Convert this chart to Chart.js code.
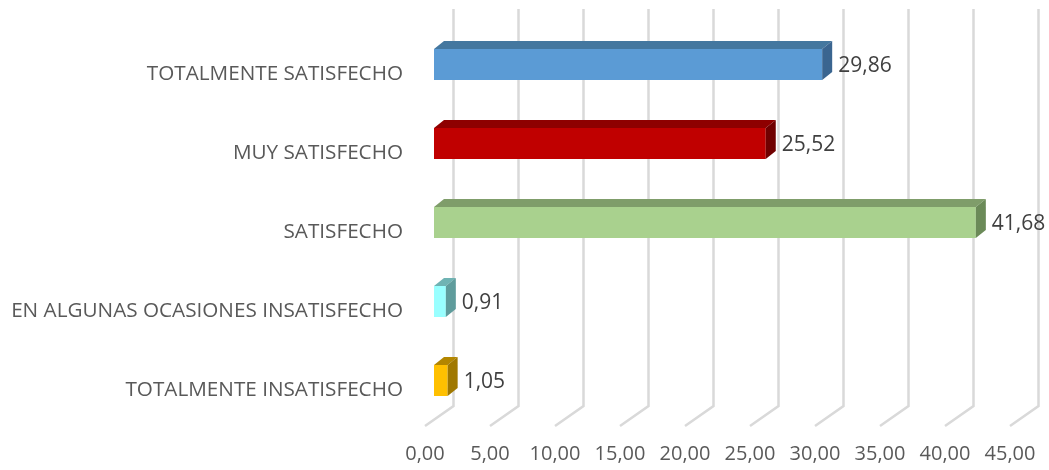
<!DOCTYPE html>
<html>
<head>
<meta charset="utf-8">
<script src="https://cdn.jsdelivr.net/npm/chart.js@4/dist/chart.umd.min.js"></script>
<style>
    body { margin: 0; background: #ffffff; }
    #wrap { width: 1049px; height: 470px; }
</style>
</head>
<body>
<div id="wrap"><canvas id="myChart" width="1049" height="470"></canvas></div>
<script>
const categories = [
    'TOTALMENTE SATISFECHO',
    'MUY SATISFECHO',
    'SATISFECHO',
    'EN ALGUNAS OCASIONES INSATISFECHO',
    'TOTALMENTE INSATISFECHO'
];
const values = [29.86, 25.52, 41.68, 0.91, 1.05];
const xTicks = [0, 5, 10, 15, 20, 25, 30, 35, 40, 45];

// colours for the front, top and side faces of each bar
const frontColors = ['#5b9bd5', '#c00000', '#a9d18e', '#99ffff', '#ffc000'];
const topColors = ['#44779f', '#8e0000', '#7f9d6a', '#6fb3b3', '#b38600'];
const sideColors = ['#3a6590', '#700000', '#6b8a58', '#5f9c9c', '#a07800'];

const fmt = (v) => v.toFixed(2).replace('.', ',');
const FONT = '"Open Sans", "Noto Sans", sans-serif';

// the fake 3D: wall + floor gridlines, bar top/side faces and value labels
const depth3d = {
    id: 'depth3d',
    beforeDatasetsDraw(chart) {
        const ctx = chart.ctx;
        const xs = chart.scales.x;
        const area = chart.chartArea;
        ctx.save();
        ctx.strokeStyle = '#d9d9d9';
        ctx.lineWidth = 2.5;
        xTicks.forEach((t) => {
            const px = xs.getPixelForValue(t);
            ctx.beginPath();
            ctx.moveTo(px + 19.5, area.top - 16);
            ctx.lineTo(px + 19.5, area.bottom - 14);
            ctx.lineTo(px - 9, area.bottom + 6);
            ctx.stroke();
        });
        ctx.restore();
    },
    afterDatasetsDraw(chart) {
        const ctx = chart.ctx;
        const meta = chart.getDatasetMeta(0);
        const dx = 10, dy = -8;
        ctx.save();
        meta.data.forEach((bar, i) => {
            const p = bar.getProps(['x', 'y', 'base', 'height'], true);
            const top = p.y - p.height / 2;
            const bottom = p.y + p.height / 2;
            // top face
            ctx.fillStyle = topColors[i];
            ctx.beginPath();
            ctx.moveTo(p.base, top);
            ctx.lineTo(p.x, top);
            ctx.lineTo(p.x + dx, top + dy);
            ctx.lineTo(p.base + dx, top + dy);
            ctx.closePath();
            ctx.fill();
            // side face
            ctx.fillStyle = sideColors[i];
            ctx.beginPath();
            ctx.moveTo(p.x, top);
            ctx.lineTo(p.x + dx, top + dy);
            ctx.lineTo(p.x + dx, bottom + dy);
            ctx.lineTo(p.x, bottom);
            ctx.closePath();
            ctx.fill();
            // value label
            ctx.fillStyle = '#404040';
            ctx.font = '21px ' + FONT;
            ctx.textAlign = 'left';
            ctx.textBaseline = 'middle';
            ctx.fillText(fmt(values[i]), p.x + 16, p.y + 2);
        });
        ctx.restore();
    }
};

const ctx = document.getElementById('myChart').getContext('2d');
new Chart(ctx, {
    type: 'bar',
    data: {
        labels: categories,
        datasets: [{
            data: values,
            backgroundColor: frontColors,
            borderWidth: 0,
            categoryPercentage: 1,
            barPercentage: 0.392
        }]
    },
    options: {
        indexAxis: 'y',
        responsive: false,
        animation: false,
        layout: { padding: { top: 25, right: 30, left: 0, bottom: 0 } },
        plugins: {
            legend: { display: false },
            tooltip: { enabled: false }
        },
        scales: {
            x: {
                min: 0,
                max: 45,
                afterBuildTicks: (scale) => { scale.ticks = xTicks.map((v) => ({ value: v })); },
                afterFit: (scale) => {
                    scale.height = 50;
                    scale.paddingLeft = 0;
                    scale.paddingRight = 0;
                },
                grid: { display: false, drawTicks: false },
                border: { display: false },
                ticks: {
                    callback: (v) => fmt(v),
                    color: '#595959',
                    font: { family: FONT, size: 20 },
                    padding: 22,
                    labelOffset: -9,
                    maxRotation: 0
                }
            },
            y: {
                afterFit: (scale) => {
                    scale.width = 434;
                    scale.paddingTop = 0;
                    scale.paddingBottom = 0;
                },
                grid: { display: false, drawTicks: false },
                border: { display: false },
                ticks: {
                    color: '#595959',
                    font: { family: FONT, size: 20.7 },
                    padding: 31,
                    labelOffset: 10
                }
            }
        }
    },
    plugins: [depth3d]
});
</script>
</body>
</html>
